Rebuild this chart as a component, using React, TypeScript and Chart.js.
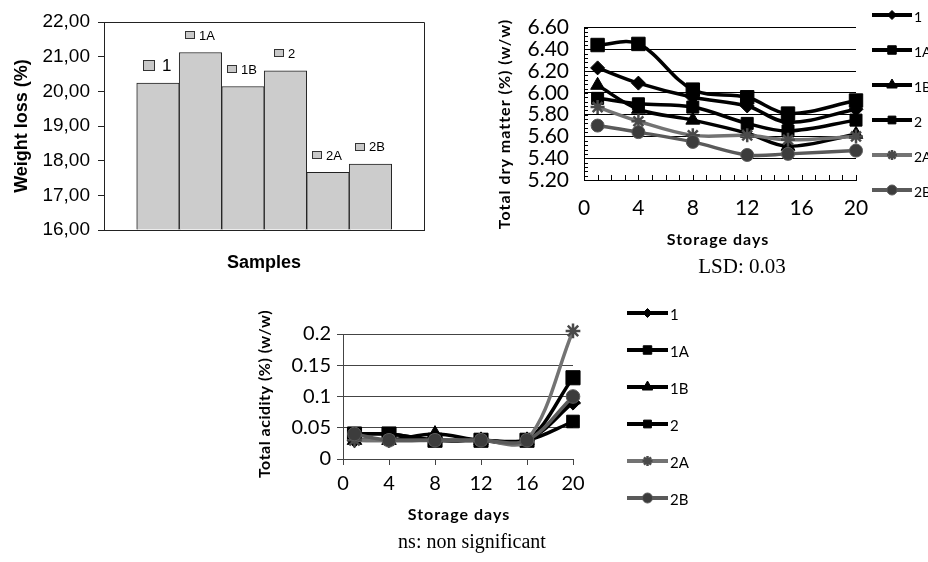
import React, { useEffect, useRef } from 'react';
import { Chart, registerables } from 'chart.js';
import { drawPoint } from 'chart.js/helpers';

Chart.register(...registerables);

// ---------- data ----------
const samples = ['1', '1A', '1B', '2', '2A', '2B'];
const weightLoss = [20.24, 21.12, 20.14, 20.59, 17.66, 17.9];

const seriesNames = ['1', '1A', '1B', '2', '2A', '2B'];

const dryDays = [1, 4, 8, 12, 15, 20];
const dry1 = [6.23, 6.09, 5.96, 5.88, 5.73, 5.85];
const dry1A = [6.44, 6.45, 6.03, 5.96, 5.81, 5.93];
const dry1B = [6.07, 5.85, 5.75, 5.63, 5.51, 5.62];
const dry2 = [5.95, 5.9, 5.87, 5.72, 5.65, 5.75];
const dry2A = [5.87, 5.74, 5.61, 5.61, 5.57, 5.6];
const dry2B = [5.7, 5.64, 5.55, 5.43, 5.44, 5.47];

const acidDays = [1, 4, 8, 12, 16, 20];
const acid1 = [0.03, 0.03, 0.03, 0.03, 0.03, 0.09];
const acid1A = [0.04, 0.04, 0.03, 0.03, 0.03, 0.13];
const acid1B = [0.03, 0.03, 0.04, 0.03, 0.03, 0.095];
const acid2 = [0.04, 0.04, 0.03, 0.03, 0.03, 0.06];
const acid2A = [0.03, 0.03, 0.03, 0.03, 0.03, 0.205];
const acid2B = [0.04, 0.03, 0.03, 0.03, 0.03, 0.1];

const dryData = [dry1, dry1A, dry1B, dry2, dry2A, dry2B];
const acidData = [acid1, acid1A, acid1B, acid2, acid2A, acid2B];

// ---------- styles ----------
const ARIAL = '"Liberation Sans", Arial, sans-serif';
const CAL = 'Lato, "Open Sans", sans-serif';
const SERIF = '"Liberation Serif", "Times New Roman", serif';

const seriesStyle = [
  { line: '#000000', fill: '#000000', edge: '#000000', bw: 1, point: 'rectRot', r: 7, lr: 4.5 },
  { line: '#000000', fill: '#000000', edge: '#000000', bw: 1, point: 'rect', r: 9.5, lr: 6 },
  { line: '#000000', fill: '#000000', edge: '#000000', bw: 1, point: 'triangle', r: 8, lr: 6 },
  { line: '#000000', fill: '#000000', edge: '#000000', bw: 1, point: 'rect', r: 8.5, lr: 5.5 },
  { line: '#737373', fill: '#737373', edge: '#4a4a4a', bw: 2.5, point: 'star', r: 7, lr: 5 },
  { line: '#5a5a5a', fill: '#3c3c3c', edge: '#5a5a5a', bw: 1, point: 'circle', r: 6.5, lr: 5 },
];

// ---------- plugins ----------
type TextItem = { text: string; x: number; y: number; font: string; rotate?: number; align?: CanvasTextAlign; spacing?: string };

function freeText(items: TextItem[]) {
  return {
    id: 'freeText',
    afterDraw(chart: any) {
      const ctx = chart.ctx as CanvasRenderingContext2D;
      for (const it of items) {
        ctx.save();
        ctx.translate(it.x, it.y);
        if (it.rotate) ctx.rotate(it.rotate);
        ctx.font = it.font;
        ctx.fillStyle = '#000';
        ctx.textAlign = it.align || 'center';
        ctx.textBaseline = 'middle';
        if (it.spacing) (ctx as any).letterSpacing = it.spacing;
        ctx.fillText(it.text, 0, 0);
        ctx.restore();
      }
    },
  };
}

function lineLegend(cfg: { x: number; y: number; gap: number; len: number; lw: number; font: string }) {
  return {
    id: 'lineLegend',
    afterDraw(chart: any) {
      const ctx = chart.ctx as CanvasRenderingContext2D;
      chart.data.datasets.forEach((ds: any, i: number) => {
        const st = seriesStyle[i];
        const y = cfg.y + i * cfg.gap;
        ctx.save();
        ctx.strokeStyle = st.line;
        ctx.lineWidth = cfg.lw;
        ctx.beginPath();
        ctx.moveTo(cfg.x, y);
        ctx.lineTo(cfg.x + cfg.len, y);
        ctx.stroke();
        ctx.fillStyle = st.fill;
        ctx.strokeStyle = st.edge;
        ctx.lineWidth = st.bw;
        drawPoint(ctx, { pointStyle: st.point as any, radius: st.lr, rotation: 0, borderWidth: st.bw } as any, cfg.x + cfg.len / 2, y);
        ctx.fillStyle = '#000';
        ctx.font = cfg.font;
        ctx.textAlign = 'left';
        ctx.textBaseline = 'middle';
        ctx.fillText(ds.label, cfg.x + cfg.len + 2, y + 2);
        ctx.restore();
      });
    },
  };
}

function minorTicks(cfg: { xStep: number; xLen: number; yStep: number; yLen: number }) {
  return {
    id: 'minorTicks',
    beforeDatasetsDraw(chart: any) {
      const { ctx, chartArea: a, scales } = chart;
      const xs = scales.x;
      const ys = scales.y;
      ctx.save();
      ctx.strokeStyle = '#000';
      ctx.lineWidth = 1;
      ctx.beginPath();
      for (let k = 0; ; k++) {
        const v = xs.min + k * cfg.xStep;
        if (v > xs.max + 1e-9) break;
        const px = Math.round(xs.getPixelForValue(v)) + 0.5;
        ctx.moveTo(px, a.bottom);
        ctx.lineTo(px, a.bottom - cfg.xLen);
      }
      for (let k = 0; ; k++) {
        const v = ys.min + k * cfg.yStep;
        if (v > ys.max + 1e-9) break;
        const py = Math.round(ys.getPixelForValue(v)) + 0.5;
        ctx.moveTo(a.left, py);
        ctx.lineTo(a.left + cfg.yLen, py);
      }
      ctx.stroke();
      ctx.restore();
    },
  };
}

const frame = {
  id: 'frame',
  afterDraw(chart: any) {
    const { ctx, chartArea: a } = chart;
    ctx.save();
    ctx.strokeStyle = '#222';
    ctx.lineWidth = 1;
    ctx.beginPath();
    ctx.moveTo(a.left, Math.round(a.top) + 0.5);
    ctx.lineTo(Math.round(a.right) + 0.5, Math.round(a.top) + 0.5);
    ctx.lineTo(Math.round(a.right) + 0.5, a.bottom);
    ctx.stroke();
    ctx.restore();
  },
};

const barLabels = {
  id: 'barLabels',
  afterDatasetsDraw(chart: any) {
    const ctx = chart.ctx as CanvasRenderingContext2D;
    const meta = chart.getDatasetMeta(0);
    meta.data.forEach((bar: any, i: number) => {
      const big = i === 0;
      const fs = big ? 17 : 13;
      const sw = big ? 12 : 10;
      const sh = big ? 11 : 8;
      const gap = big ? 7 : 4;
      const text = samples[i];
      ctx.save();
      ctx.font = `${fs}px ${ARIAL}`;
      const tw = ctx.measureText(text).width;
      const total = sw + gap + tw;
      const left = Math.round(bar.x - total / 2 - 1);
      const cy = bar.y - 17.5;
      const top = Math.round(cy - sh / 2);
      ctx.fillStyle = '#c8c8c8';
      ctx.fillRect(left, top, sw, sh);
      ctx.strokeStyle = '#333';
      ctx.lineWidth = 1;
      ctx.strokeRect(left + 0.5, top + 0.5, sw - 1, sh - 1);
      ctx.fillStyle = '#000';
      ctx.textAlign = 'left';
      ctx.textBaseline = 'middle';
      ctx.fillText(text, left + sw + gap, cy + 1);
      ctx.restore();
    });
  },
};

// ---------- chart configs ----------
function makeBarChart(): any {
  return {
    type: 'bar',
    data: {
      datasets: [
        {
          label: 'Weight loss',
          data: samples.map((s, i) => ({ x: i + 1, y: weightLoss[i] })),
          backgroundColor: '#cccccc',
          borderColor: '#222',
          borderWidth: 1,
          borderSkipped: 'start',
          barPercentage: 1,
          categoryPercentage: 1,
          base: 16,
        },
      ],
    },
    options: {
      responsive: false,
      animation: false,
      layout: { padding: { left: 0, top: 22, right: 16, bottom: 0 } },
      plugins: { legend: { display: false }, tooltip: { enabled: false } },
      scales: {
        x: {
          type: 'linear',
          offset: false,
          min: -0.27,
          max: 7.26,
          ticks: { display: false },
          grid: { display: false, drawTicks: false, offset: false },
          border: { display: true, color: '#222', width: 1 },
          afterFit: (s: any) => { s.height = 50; },
        },
        y: {
          min: 16,
          max: 22,
          ticks: {
            stepSize: 1,
            autoSkip: false,
            color: '#000',
            padding: 8,
            font: { family: ARIAL, size: 19 },
            callback: (v: any) => Number(v).toFixed(2).replace('.', ','),
          },
          grid: { drawOnChartArea: false, drawTicks: true, tickLength: 6, color: '#222' },
          border: { display: true, color: '#222', width: 1 },
          afterFit: (s: any) => { s.width = 104; },
        },
      },
    },
    plugins: [
      frame,
      barLabels,
      freeText([
        { text: 'Weight loss (%)', x: 22, y: 126, rotate: -Math.PI / 2, font: `bold 18px ${ARIAL}` },
        { text: 'Samples', x: 264, y: 263, font: `bold 18px ${ARIAL}` },
      ]),
    ],
  };
}

function lineDatasets(days: number[], values: number[][], scale: number) {
  return seriesNames.map((name, i) => {
    const st = seriesStyle[i];
    return {
      label: name,
      data: days.map((d, j) => ({ x: d, y: values[i][j] })),
      borderColor: st.line,
      backgroundColor: st.fill,
      borderWidth: 3.5,
      pointStyle: st.point,
      pointRadius: st.r * scale,
      pointBackgroundColor: st.fill,
      pointBorderColor: st.edge,
      pointBorderWidth: st.bw,
      tension: 0.35,
      order: seriesNames.length - 1 - i,
      clip: false,
    };
  });
}

function makeDryChart(): any {
  return {
    type: 'line',
    data: { datasets: lineDatasets(dryDays, dryData, 1) },
    options: {
      responsive: false,
      animation: false,
      layout: { padding: { left: 0, top: 18, right: 72, bottom: 0 } },
      plugins: { legend: { display: false }, tooltip: { enabled: false } },
      scales: {
        x: {
          type: 'linear',
          min: 0,
          max: 20,
          ticks: { stepSize: 4, autoSkip: false, color: '#000', padding: 16, font: { family: CAL, size: 21 } },
          grid: { display: false, drawTicks: false },
          border: { display: true, color: '#000', width: 1 },
          afterFit: (s: any) => { s.height = 100; },
        },
        y: {
          min: 5.2,
          max: 6.6,
          ticks: {
            stepSize: 0.2,
            autoSkip: false,
            color: '#000',
            padding: 15,
            font: { family: CAL, size: 21 },
            callback: (v: any) => Number(v).toFixed(2),
          },
          grid: { drawTicks: false, color: '#000', lineWidth: 1 },
          border: { display: true, color: '#000', width: 1 },
          afterFit: (s: any) => { s.width = 104; },
        },
      },
    },
    plugins: [
      minorTicks({ xStep: 1, xLen: 5, yStep: 0.04, yLen: 4 }),
      lineLegend({ x: 392, y: 15, gap: 35, len: 40, lw: 4, font: `14px ${CAL}` }),
      freeText([
        { text: 'Total dry matter (%) (w/w)', x: 25, y: 124, rotate: -Math.PI / 2, font: `bold 16px ${CAL}`, spacing: '1px' },
        { text: 'Storage days', x: 238, y: 240, font: `bold 16px ${CAL}`, spacing: '1px' },
        { text: 'LSD: 0.03', x: 262, y: 267, font: `21px ${SERIF}` },
      ]),
    ],
  };
}

function makeAcidChart(): any {
  return {
    type: 'line',
    data: { datasets: lineDatasets(acidDays, acidData, 1.05) },
    options: {
      responsive: false,
      animation: false,
      layout: { padding: { left: 0, top: 44, right: 137, bottom: 0 } },
      plugins: { legend: { display: false }, tooltip: { enabled: false } },
      scales: {
        x: {
          type: 'linear',
          min: 0,
          max: 20,
          ticks: { stepSize: 4, autoSkip: false, color: '#000', padding: 7, font: { family: CAL, size: 20 } },
          grid: { drawOnChartArea: false, drawTicks: true, tickLength: 6, color: '#444' },
          border: { display: true, color: '#444', width: 1 },
          afterFit: (s: any) => { s.height = 103; },
        },
        y: {
          min: 0,
          max: 0.2,
          ticks: {
            stepSize: 0.05,
            autoSkip: false,
            color: '#000',
            padding: 6,
            font: { family: CAL, size: 20 },
            callback: (v: any) => String(Number(Number(v).toFixed(2))),
          },
          grid: { drawTicks: true, tickLength: 6, color: '#444', lineWidth: 1 },
          border: { display: true, color: '#444', width: 1 },
          afterFit: (s: any) => { s.width = 93; },
        },
      },
    },
    plugins: [
      lineLegend({ x: 377, y: 23, gap: 37, len: 41, lw: 4, font: `15px ${CAL}` }),
      freeText([
        { text: 'Total acidity (%) (w/w)', x: 15, y: 104, rotate: -Math.PI / 2, font: `bold 16px ${CAL}`, spacing: '0.5px' },
        { text: 'Storage days', x: 209, y: 225, font: `bold 16px ${CAL}`, spacing: '1px' },
        { text: 'ns: non significant', x: 222, y: 253, font: `20px ${SERIF}` },
      ]),
    ],
  };
}

// ---------- components ----------
function ChartBox(props: { make: () => any; left: number; top: number; width: number; height: number }) {
  const ref = useRef<HTMLCanvasElement>(null);
  useEffect(() => {
    const chart = new Chart(ref.current as HTMLCanvasElement, props.make());
    return () => chart.destroy();
  }, []);
  return (
    <div style={{ position: 'absolute', left: props.left, top: props.top, width: props.width, height: props.height }}>
      <canvas ref={ref} width={props.width} height={props.height} style={{ display: 'block' }} />
    </div>
  );
}

export default function App() {
  return (
    <div style={{ position: 'fixed', left: 0, top: 0, width: 928, height: 562, background: '#fff', overflow: 'hidden' }}>
      <ChartBox make={makeBarChart} left={0} top={0} width={440} height={280} />
      <ChartBox make={makeDryChart} left={480} top={0} width={448} height={280} />
      <ChartBox make={makeAcidChart} left={250} top={290} width={460} height={272} />
    </div>
  );
}
